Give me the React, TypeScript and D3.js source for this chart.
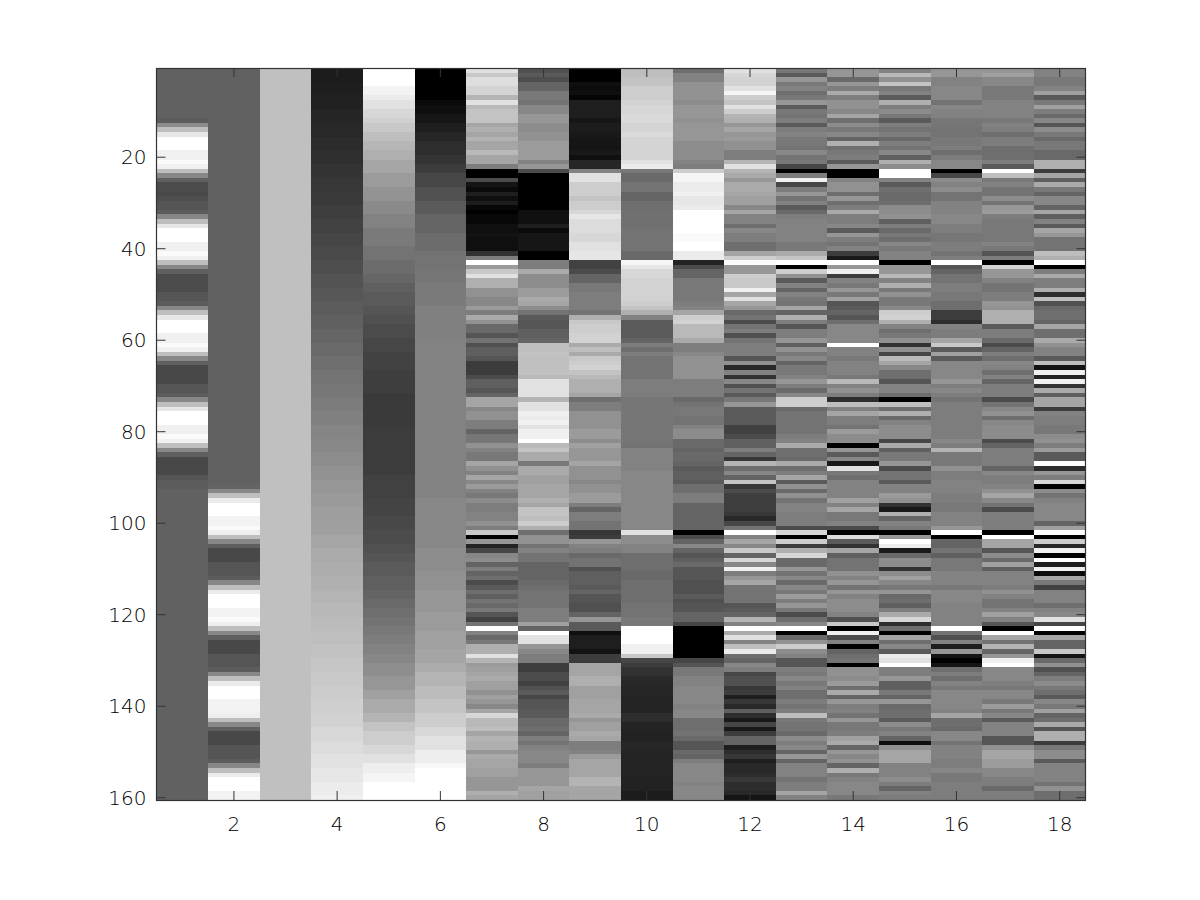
import React from 'react';
import * as d3 from 'd3';

// Grey levels (0-255), one list per column, 20 rows per line
const col1 = [
  97,97,97,97,97,97,97,97,97,97,97,92,140,190,230,255,255,255,240,240,
  250,240,190,135,95,75,75,72,78,85,85,92,135,190,230,255,255,255,240,240,
  250,240,190,135,95,75,75,75,75,85,85,92,135,190,230,255,255,255,240,240,
  250,240,190,135,95,72,72,72,72,85,85,92,135,190,230,255,255,255,240,240,
  250,240,190,135,95,72,72,72,72,85,92,92,97,97,97,97,97,97,97,97,
  97,97,97,97,97,97,97,97,97,97,97,97,97,97,97,97,97,97,97,97,
  97,97,97,97,97,97,97,97,97,97,97,97,97,97,97,97,97,97,97,97,
  97,97,97,97,97,97,97,97,97,97,97,97,97,97,97,97,97,97,97,97,
];
const col2 = [
  97,97,97,97,97,97,97,97,97,97,97,97,97,97,97,97,97,97,97,97,
  97,97,97,97,97,97,97,97,97,97,97,97,97,97,97,97,97,97,97,97,
  97,97,97,97,97,97,97,97,97,97,97,97,97,97,97,97,97,97,97,97,
  97,97,97,97,97,97,97,97,97,97,97,97,97,97,97,97,97,97,97,97,
  97,97,97,97,97,97,97,97,97,97,97,100,135,190,235,255,255,255,243,243,
  250,238,190,135,95,72,72,72,85,85,85,92,135,190,235,255,255,255,243,243,
  250,238,190,135,95,72,72,72,85,85,85,92,135,190,235,255,255,255,243,243,
  243,238,190,135,95,72,72,72,85,85,85,92,135,190,235,255,255,255,243,243,
];
const col3 = [
  192,192,192,192,192,192,192,192,192,192,192,192,192,192,192,192,192,192,192,192,
  192,192,192,192,192,192,192,192,192,192,192,192,192,192,192,192,192,192,192,192,
  192,192,192,192,192,192,192,192,192,192,192,192,192,192,192,192,192,192,192,192,
  192,192,192,192,192,192,192,192,192,192,192,192,192,192,192,192,192,192,192,192,
  192,192,192,192,192,192,192,192,192,192,192,192,192,192,192,192,192,192,192,192,
  192,192,192,192,192,192,192,192,192,192,192,192,192,192,192,192,192,192,192,192,
  192,192,192,192,192,192,192,192,192,192,192,192,192,192,192,192,192,192,192,192,
  192,192,192,192,192,192,192,192,192,192,192,192,192,192,192,192,192,192,192,192,
];
const col4 = [
  28,28,28,30,30,30,33,33,33,37,37,37,40,40,40,44,44,44,47,47,
  47,51,51,51,55,55,55,58,58,58,62,62,62,66,66,66,70,70,70,74,
  74,74,78,78,78,83,83,83,87,87,87,92,92,92,96,96,96,101,101,101,
  105,105,105,110,110,110,115,115,115,119,119,119,124,124,124,128,128,128,133,133,
  133,136,136,136,140,140,140,145,145,145,150,150,150,154,154,154,158,158,158,160,
  160,160,165,165,165,170,170,170,173,173,173,176,176,176,180,180,180,184,184,184,
  187,187,187,190,190,190,194,194,194,198,198,198,201,201,201,204,204,204,207,207,
  207,210,210,210,215,215,215,220,220,220,226,226,226,231,231,231,236,236,236,240,
];
const col5 = [
  255,255,255,255,243,243,235,225,225,215,215,208,200,200,190,190,182,182,175,175,
  165,165,165,155,155,155,147,147,147,138,138,138,130,130,130,122,122,122,122,115,
  115,115,108,108,108,102,102,95,95,90,90,90,85,85,80,80,75,75,75,70,
  70,70,66,66,66,66,62,62,62,62,62,58,58,58,58,58,58,58,58,60,
  60,60,60,60,60,60,60,60,60,65,65,65,65,65,68,68,68,68,72,72,
  72,76,76,76,80,80,85,85,90,90,90,95,95,95,100,100,105,105,110,110,
  115,115,120,120,125,125,130,130,135,135,142,142,142,150,150,150,160,160,170,170,
  170,180,180,195,195,205,205,205,215,215,225,225,238,238,245,245,255,255,255,255,
];
const col6 = [
  0,0,0,0,0,0,0,10,15,15,22,22,30,30,38,38,45,45,45,52,
  52,60,60,70,70,70,80,80,80,90,90,90,100,100,100,100,108,108,108,108,
  115,115,115,115,118,118,118,122,122,122,122,122,128,128,128,128,128,128,128,130,
  130,130,130,130,130,130,130,130,130,130,130,130,130,130,130,130,130,130,130,130,
  130,130,130,130,130,130,130,130,130,130,130,130,130,130,135,135,135,135,135,135,
  135,135,135,135,135,140,140,140,140,140,145,145,145,145,150,150,150,150,150,155,
  155,155,155,160,160,160,160,165,165,165,172,172,180,180,180,188,188,188,196,196,
  196,205,205,205,215,215,225,225,225,238,238,238,248,255,255,255,255,255,255,255,
];
const col7 = [
  225,200,222,222,212,212,180,225,185,195,195,195,165,175,165,178,165,165,185,165,
  165,125,0,0,75,20,10,30,15,30,8,0,8,8,15,15,18,15,15,15,
  50,125,255,155,200,225,175,175,145,145,135,135,155,125,170,145,105,105,85,115,
  80,95,95,85,60,60,60,75,95,95,85,100,165,165,135,145,145,125,125,100,
  118,118,145,130,120,120,165,145,130,165,135,155,130,120,140,125,125,130,130,145,
  125,200,0,150,35,70,135,140,100,125,100,110,75,90,110,95,115,105,120,85,
  65,115,255,130,105,120,175,175,225,180,155,160,165,170,160,160,145,160,150,135,
  165,215,185,185,190,165,180,175,175,150,170,165,165,160,160,150,150,150,175,165,
];
const col8 = [
  80,90,78,100,100,120,120,115,135,135,150,150,140,140,145,145,155,155,155,155,
  130,150,75,0,0,0,0,0,0,0,0,15,15,15,30,10,22,22,22,22,
  0,0,125,125,170,140,140,140,155,155,170,165,140,115,90,85,85,95,95,100,
  190,190,195,192,192,192,192,185,225,225,225,225,180,225,225,240,235,240,225,240,
  240,255,185,195,170,170,120,170,170,160,160,165,165,165,175,165,195,195,190,205,
  175,110,145,145,115,130,115,115,100,100,100,100,105,110,115,115,115,115,125,125,
  125,160,100,255,225,225,150,135,125,125,60,60,75,75,65,80,90,70,85,85,
  90,90,105,105,110,100,125,115,130,135,135,135,125,150,150,150,150,165,160,160,
];
const col9 = [
  0,0,0,15,12,15,5,30,30,30,30,22,28,28,25,22,22,20,25,15,
  38,38,130,225,225,205,205,205,195,205,205,215,230,220,220,220,215,215,225,225,
  230,230,65,65,75,100,100,120,120,125,125,125,125,115,175,200,205,205,210,210,
  170,190,170,200,205,210,195,185,175,175,175,165,110,125,125,145,145,145,145,155,
  155,140,160,150,150,150,165,145,145,145,135,145,145,155,155,125,100,125,125,115,
  115,55,60,150,130,125,105,115,115,80,95,95,95,90,100,85,85,80,80,100,
  150,90,90,15,30,30,30,18,60,60,165,165,165,175,175,160,160,160,165,165,
  165,170,150,160,160,170,165,125,125,130,155,165,165,165,165,180,180,165,165,165,
];
const col10 = [
  190,190,195,195,205,205,205,210,215,215,218,218,212,212,218,212,212,212,212,212,
  225,235,120,105,105,115,115,100,100,110,110,112,112,112,112,115,115,115,115,115,
  105,105,245,230,215,215,210,210,210,210,210,205,195,175,130,90,90,90,90,100,
  125,110,125,115,115,115,115,115,125,125,125,125,118,118,118,118,118,118,118,118,
  118,118,115,130,130,130,130,130,135,135,135,135,135,135,135,135,135,135,135,135,
  135,225,140,140,130,130,110,110,110,110,105,105,110,110,110,110,110,115,115,115,
  120,120,255,255,255,255,240,240,200,70,60,50,50,42,40,38,38,36,36,36,
  35,45,45,36,36,34,34,38,38,36,36,36,36,36,36,34,34,34,28,28,
];
const col11 = [
  110,130,130,145,145,145,145,140,150,150,150,145,150,150,150,150,140,140,140,140,
  130,125,205,245,245,235,235,240,230,230,235,255,255,255,255,255,250,250,255,255,
  235,235,35,75,100,100,120,120,120,120,120,125,130,165,205,210,185,185,185,170,
  125,125,135,145,145,145,145,145,125,125,125,125,105,115,120,120,115,115,130,140,
  140,105,105,100,105,105,100,90,95,95,90,110,110,125,125,100,100,100,100,100,
  100,0,75,100,135,100,85,95,105,85,85,85,80,80,80,90,80,85,85,100,
  100,70,0,0,0,0,0,0,0,70,85,120,120,130,130,135,135,135,135,130,
  135,135,110,110,110,115,105,85,85,105,100,125,135,135,135,135,130,135,135,135,
];
const col12 = [
  225,215,210,210,225,245,205,195,225,205,180,175,150,165,150,155,145,145,125,125,
  180,225,180,170,150,170,170,165,160,160,135,165,130,130,110,135,125,125,110,110,
  165,205,250,150,150,205,200,200,240,165,225,165,150,105,115,75,115,125,80,115,
  125,125,125,85,145,40,130,50,135,80,115,90,120,150,90,90,90,90,65,65,
  75,95,95,125,100,55,180,110,135,100,195,55,75,62,62,62,62,55,40,70,
  115,255,130,165,135,200,100,215,135,240,125,150,165,115,115,115,115,85,90,100,
  180,130,255,170,225,130,190,235,110,100,135,125,70,80,80,55,60,30,55,40,
  95,45,25,70,25,60,100,100,30,45,55,30,40,40,45,55,45,45,40,20,
];
const col13 = [
  120,90,150,120,130,110,120,150,90,120,115,125,90,125,130,120,120,115,135,115,
  120,70,0,125,240,70,125,150,115,130,90,105,125,130,130,130,130,130,120,120,
  170,195,255,0,205,145,90,130,100,130,120,115,165,100,175,125,85,125,125,150,
  95,145,120,135,100,120,120,130,150,125,105,135,205,205,105,115,115,115,115,115,
  125,130,170,110,110,105,170,110,125,165,90,145,105,145,115,130,130,125,125,125,
  75,215,0,205,60,175,215,105,105,150,115,135,105,135,120,155,125,150,120,75,
  110,135,255,0,105,145,205,140,130,85,85,125,120,135,120,130,110,110,125,115,
  125,190,120,115,115,105,140,125,135,100,150,100,130,130,130,115,125,125,165,130,
];
const col14 = [
  150,150,105,150,125,170,125,145,145,135,165,110,140,120,135,100,175,110,120,125,
  90,150,0,0,130,145,145,110,150,110,125,170,125,125,135,90,150,125,115,130,
  60,25,255,150,240,60,130,120,150,120,160,85,90,100,85,110,135,135,135,135,
  255,130,130,120,130,130,130,120,185,130,145,125,45,190,130,165,125,125,115,155,
  140,140,0,150,90,135,25,225,120,110,130,130,130,130,160,130,165,120,120,130,
  75,0,220,90,50,165,95,115,115,115,145,130,150,115,150,130,140,140,140,130,
  80,200,0,240,75,130,0,100,110,115,0,145,145,140,155,110,170,100,150,125,
  130,115,150,120,120,125,160,170,100,150,135,145,100,175,120,130,135,135,135,120,
];
const col15 = [
  130,185,145,195,120,130,90,175,125,140,120,90,125,115,125,105,125,115,135,95,
  175,140,255,255,130,90,110,105,105,110,140,140,145,95,125,105,120,110,135,120,
  130,130,0,150,150,185,130,175,120,145,120,120,135,205,210,175,130,110,120,145,
  50,145,70,185,165,135,110,110,85,130,130,110,0,190,110,175,105,130,140,140,
  140,70,170,95,120,120,150,75,115,115,90,130,130,155,145,50,25,175,100,130,
  120,0,150,255,235,25,105,140,140,50,140,160,135,120,150,105,110,95,125,170,
  215,45,110,0,165,110,135,90,235,225,255,125,125,150,95,95,120,100,150,105,
  110,110,90,140,120,130,100,15,145,165,165,165,130,130,130,140,125,100,130,125,
];
const col16 = [
  150,150,130,130,135,135,135,115,135,130,130,118,118,115,115,120,120,125,110,125,
  135,135,0,70,140,130,140,115,115,130,130,130,135,135,125,125,118,118,125,125,
  115,125,255,85,100,115,115,125,125,120,120,110,110,60,60,45,130,125,125,165,
  200,90,160,90,135,135,135,135,150,125,135,125,115,125,125,125,125,125,125,125,
  125,135,125,180,120,120,120,145,125,125,130,130,130,125,125,120,120,130,130,130,
  150,255,0,100,100,115,95,120,120,120,130,130,130,120,135,135,135,130,130,130,
  130,130,255,115,80,130,30,150,20,0,20,110,125,110,130,120,135,135,135,135,
  130,165,110,110,105,135,135,115,130,130,130,125,125,135,120,120,125,125,125,125,
];
const col17 = [
  150,160,135,135,120,120,120,130,130,130,130,120,130,125,110,125,125,110,110,110,
  125,90,255,190,120,130,115,115,140,115,150,155,125,120,120,120,120,120,130,120,
  85,125,0,210,150,150,130,115,115,125,125,150,145,175,175,175,90,125,125,105,
  75,100,125,110,135,130,110,130,100,125,125,125,75,115,135,145,110,135,140,140,
  140,75,100,125,125,125,125,100,135,125,125,130,145,165,135,115,75,125,125,125,
  125,0,255,165,165,85,140,105,160,95,130,130,130,125,145,130,115,115,130,160,
  130,85,0,255,165,115,180,100,150,240,255,135,135,135,125,120,135,135,120,155,
  120,135,90,130,130,130,85,85,145,165,165,155,155,135,135,125,125,105,125,125,
];
const col18 = [
  130,130,120,120,130,160,90,120,160,125,105,135,85,140,120,105,120,120,105,105,
  175,175,60,165,95,170,120,100,135,135,100,165,95,130,90,165,150,115,115,115,
  190,175,255,0,125,170,125,125,175,45,190,80,105,110,110,100,165,110,110,170,
  145,130,130,90,190,20,240,35,240,50,170,95,165,165,60,130,125,125,120,120,
  140,145,125,155,90,90,255,45,150,125,215,0,140,115,130,135,135,135,135,100,
  160,255,0,205,40,240,0,255,30,240,10,165,120,65,130,130,130,110,130,135,
  225,70,255,0,165,100,100,200,20,105,145,80,100,125,140,120,110,90,135,120,
  160,100,110,170,85,175,175,60,120,140,140,90,130,130,130,130,115,145,110,110,
];

const columns = [col1, col2, col3, col4, col5, col6, col7, col8, col9, col10, col11, col12, col13, col14, col15, col16, col17, col18];
const xTicks = [2, 4, 6, 8, 10, 12, 14, 16, 18];
const yTicks = [20, 40, 60, 80, 100, 120, 140, 160];

const margin = { top: 68, right: 114.5, bottom: 100, left: 156.5 };
const width = 1200 - margin.left - margin.right;
const height = 900 - margin.top - margin.bottom;
const axisColor = '#333333';
const labelColor = '#000000';
const tickLen = 9;

export default function App() {
  // MATLAB-style image axes: cell n is centred on n, y runs downwards
  const x = d3.scaleLinear().domain([0.5, columns.length + 0.5]).range([0, width]);
  const y = d3.scaleLinear().domain([0.5, col1.length + 0.5]).range([0, height]);
  const grey = d3.scaleLinear<string>().domain([0, 255]).range(['#000000', '#ffffff']);

  return (
    <svg
      width={1200}
      height={900}
      style={{ position: 'absolute', left: 0, top: 0, background: '#fff' }}
      fontFamily="'DejaVu Sans', sans-serif"
    >
      <g transform={`translate(${margin.left},${margin.top})`}>
        {columns.map((values, c) =>
          values.map((v, r) => (
            <rect
              key={`${c}-${r}`}
              x={x(c + 0.5)}
              y={y(r + 0.5)}
              width={x(c + 1.5) - x(c + 0.5)}
              height={y(r + 1.5) - y(r + 0.5)}
              fill={grey(v)}
              shapeRendering="crispEdges"
            />
          ))
        )}

        <rect x={0} y={0.5} width={width} height={height} fill="none" stroke={axisColor} strokeWidth={1.2} />

        {xTicks.map(t => (
          <g key={t} transform={`translate(${x(t)},0)`}>
            <line y1={0} y2={tickLen} stroke={axisColor} />
            <line y1={height} y2={height - tickLen} stroke={axisColor} />
            <text y={height + 31} textAnchor="middle" fontSize={20} fontWeight={200} fill={labelColor}>{t}</text>
          </g>
        ))}

        {yTicks.map(t => (
          <g key={t} transform={`translate(0,${y(t)})`}>
            <line x1={0} x2={tickLen} stroke={axisColor} />
            <line x1={width} x2={width - tickLen} stroke={axisColor} />
            <text x={-10} dy="0.35em" textAnchor="end" fontSize={20} fontWeight={200} fill={labelColor}>{t}</text>
          </g>
        ))}
      </g>
    </svg>
  );
}
